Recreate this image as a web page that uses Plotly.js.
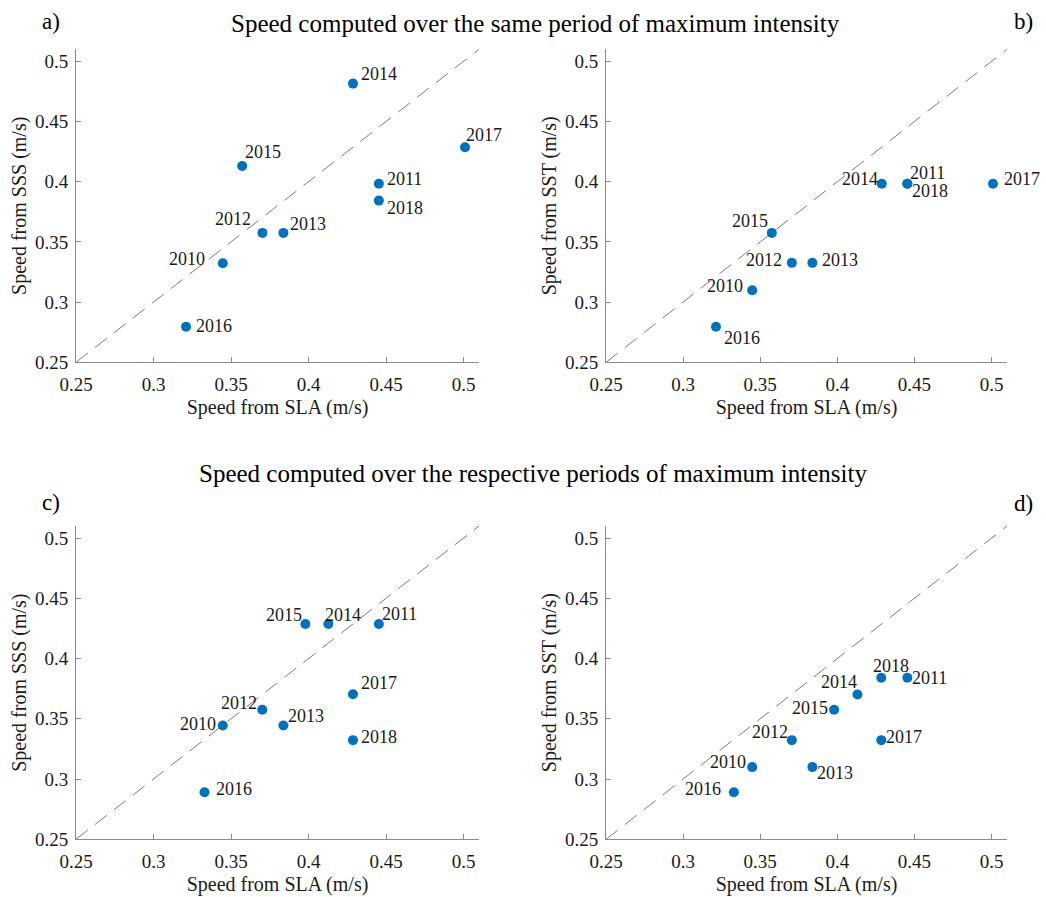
<!DOCTYPE html>
<html>
<head>
<meta charset="utf-8">
<script src="https://cdn.plot.ly/plotly-3.0.1.min.js"></script>
<style>
  html, body { margin: 0; padding: 0; background: #fff; }
  #chart { width: 1046px; height: 897px; }
</style>
</head>
<body>
<div id="chart"></div>
<script>
// ---------- data ----------
const years = ['2010', '2011', '2012', '2013', '2014', '2015', '2016', '2017', '2018'];

// a) same period: SLA vs SSS
const slaSameA = [0.3447, 0.4454, 0.3703, 0.3838, 0.4287, 0.3572, 0.3210, 0.5010, 0.4454];
const sssSame  = [0.3323, 0.3983, 0.3575, 0.3575, 0.4815, 0.4130, 0.2796, 0.4287, 0.3843];
// b) same period: SLA vs SST
const slaSameB = [0.3448, 0.4454, 0.3705, 0.3838, 0.4288, 0.3575, 0.3213, 0.5009, 0.4454];
const sstSame  = [0.3099, 0.3983, 0.3326, 0.3326, 0.3983, 0.3575, 0.2796, 0.3983, 0.3983];
// c) respective periods: SLA vs SSS
const slaRespC = [0.3447, 0.4454, 0.3702, 0.3838, 0.4128, 0.3980, 0.3329, 0.4287, 0.4287];
const sssResp  = [0.3445, 0.4287, 0.3575, 0.3445, 0.4287, 0.4287, 0.2890, 0.3704, 0.3323];
// d) respective periods: SLA vs SST
const slaRespD = [0.3448, 0.4454, 0.3705, 0.3838, 0.4130, 0.3979, 0.3329, 0.4285, 0.4285];
const sstResp  = [0.3099, 0.3840, 0.3323, 0.3099, 0.3702, 0.3575, 0.2890, 0.3323, 0.3840];

const diagonal = [0.25, 0.51];
const tickVals = [0.25, 0.3, 0.35, 0.4, 0.45, 0.5];
const tickText = ['0.25', '0.3', '0.35', '0.4', '0.45', '0.5'];

const titleSame = 'Speed computed over the same period of maximum intensity';
const titleResp = 'Speed computed over the respective periods of maximum intensity';
const xTitle = 'Speed from SLA (m/s)';
const yTitleSSS = 'Speed from SSS (m/s)';
const yTitleSST = 'Speed from SST (m/s)';
const panelLetters = ['a)', 'b)', 'c)', 'd)'];

// ---------- label placement (style: anchor, x shift px, y shift px) ----------
const placeA = [['right',-17,4],['left',7,5],['right',-10,14],['left',6,9],['left',7,10],['left',2,14],['left',9,1],['left',0,12],['left',7,-7]];
const placeB = [['right',-8,4],['left',2,11],['right',-9,3],['left',9,3],['right',-3,5],['right',-3,12],['left',7,-11],['left',10,5],['left',4,-7]];
const placeC = [['right',-6,1],['left',2,10],['right',-4,7],['left',4,9],['left',-4,9],['right',-2,9],['left',11,3],['left',7,11],['left',7,3]];
const placeD = [['right',-5,5],['left',4,0],['right',-3,8],['left',4,-6],['right',1,12],['right',-5,2],['right',-12,3],['left',4,3],['left',-9,12]];

// ---------- styles ----------
const FONT = '"Liberation Serif", "Times New Roman", Times, "DejaVu Serif", serif';
const BLUE = '#0072BD';
const AXIS_GRAY = '#8a8a8a';
const TEXT = '#1a1a1a';

const panels = [
  {x: slaSameA, y: sssSame, xa: 'x',  ya: 'y',  place: placeA},
  {x: slaSameB, y: sstSame, xa: 'x2', ya: 'y2', place: placeB},
  {x: slaRespC, y: sssResp, xa: 'x3', ya: 'y3', place: placeC},
  {x: slaRespD, y: sstResp, xa: 'x4', ya: 'y4', place: placeD}
];

const traces = [];
const annotations = [];

panels.forEach(p => {
  traces.push({
    type: 'scatter', mode: 'lines', x: diagonal, y: diagonal,
    xaxis: p.xa, yaxis: p.ya, hoverinfo: 'skip', showlegend: false,
    line: {color: '#7a7a7a', width: 1, dash: '15px,9px'}
  });
  traces.push({
    type: 'scatter', mode: 'markers', x: p.x, y: p.y, text: years,
    xaxis: p.xa, yaxis: p.ya, showlegend: false,
    marker: {color: BLUE, size: 10}
  });
  years.forEach((yr, i) => {
    const pl = p.place[i];
    annotations.push({
      x: p.x[i], y: p.y[i], xref: p.xa, yref: p.ya, text: yr, showarrow: false,
      xanchor: pl[0], yanchor: 'middle', xshift: pl[1], yshift: pl[2], borderpad: 0,
      font: {family: FONT, size: 18, color: TEXT}
    });
  });
});

// titles and panel letters
annotations.push({xref: 'paper', yref: 'paper', x: 535/1046, y: 1 - 23/897, text: titleSame, showarrow: false,
  xanchor: 'center', yanchor: 'middle', font: {family: FONT, size: 25, color: '#000'}});
annotations.push({xref: 'paper', yref: 'paper', x: 533/1046, y: 1 - 473/897, text: titleResp, showarrow: false,
  xanchor: 'center', yanchor: 'middle', font: {family: FONT, size: 25, color: '#000'}});
const letterPos = [[40, 22], [1012, 22], [40, 502], [1012, 503]];
panelLetters.forEach((t, i) => {
  annotations.push({xref: 'paper', yref: 'paper', x: letterPos[i][0]/1046, y: 1 - letterPos[i][1]/897, text: t,
    showarrow: false, xanchor: 'left', yanchor: 'middle', font: {family: FONT, size: 23, color: '#000'}});
});

function xAxis(domain, anchor) {
  return {
    domain: domain, anchor: anchor, range: [0.25, 0.51],
    tickvals: tickVals, ticktext: tickText, ticks: 'inside', ticklen: 5, tickcolor: AXIS_GRAY, tickwidth: 1,
    showline: true, linecolor: AXIS_GRAY, linewidth: 1, showgrid: false, zeroline: false, mirror: false,
    tickfont: {family: FONT, size: 19, color: TEXT}, ticklabelstandoff: 5,
    title: {text: xTitle, font: {family: FONT, size: 20, color: TEXT}, standoff: 5},
    automargin: false, fixedrange: true
  };
}
function yAxis(domain, anchor, title) {
  return {
    domain: domain, anchor: anchor, range: [0.25, 0.51],
    tickvals: tickVals, ticktext: tickText, ticks: 'inside', ticklen: 5, tickcolor: AXIS_GRAY, tickwidth: 1,
    showline: true, linecolor: AXIS_GRAY, linewidth: 1, showgrid: false, zeroline: false, mirror: false,
    tickfont: {family: FONT, size: 19, color: TEXT}, ticklabelstandoff: 3,
    title: {text: title, font: {family: FONT, size: 20, color: TEXT}, standoff: 2},
    automargin: false, fixedrange: true
  };
}

const xLeft = [76/1046, 479/1046], xRight = [606/1046, 1007/1046];
const yTop = [1 - 362.3/897, 1 - 49.3/897], yBot = [1 - 839.3/897, 1 - 526/897];

const layout = {
  width: 1046, height: 897,
  margin: {l: 0, r: 0, t: 0, b: 0},
  paper_bgcolor: '#fff', plot_bgcolor: '#fff',
  showlegend: false,
  xaxis:  xAxis(xLeft, 'y'),
  yaxis:  yAxis(yTop, 'x', yTitleSSS),
  xaxis2: xAxis(xRight, 'y2'),
  yaxis2: yAxis(yTop, 'x2', yTitleSST),
  xaxis3: xAxis(xLeft, 'y3'),
  yaxis3: yAxis(yBot, 'x3', yTitleSSS),
  xaxis4: xAxis(xRight, 'y4'),
  yaxis4: yAxis(yBot, 'x4', yTitleSST),
  annotations: annotations,
  font: {family: FONT}
};

Plotly.newPlot('chart', traces, layout, {displayModeBar: false, staticPlot: true});
</script>
</body>
</html>
